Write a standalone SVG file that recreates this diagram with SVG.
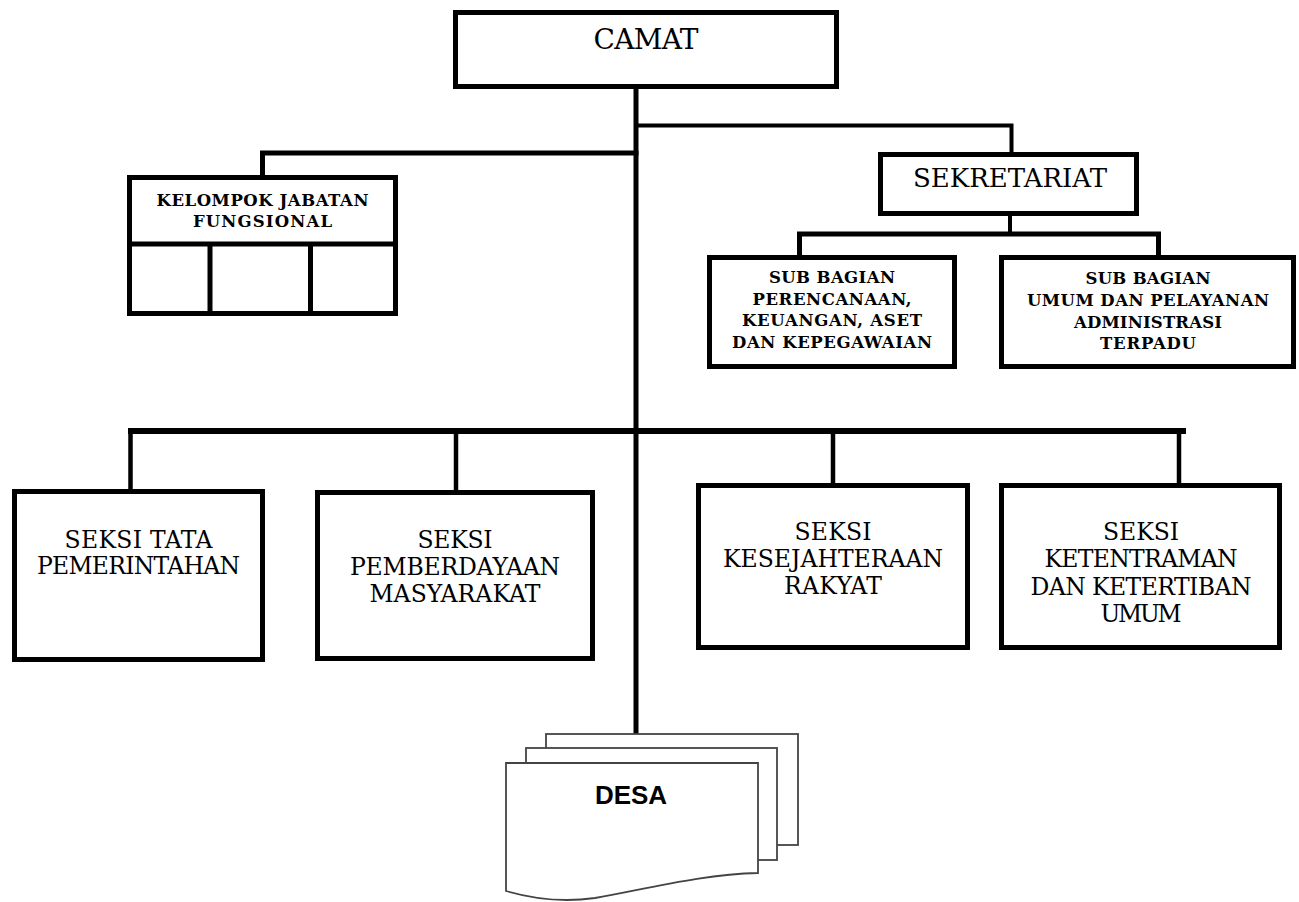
<svg xmlns="http://www.w3.org/2000/svg" width="1299" height="902" viewBox="0 0 1299 902">
<style>
.box{fill:#fff;stroke:#000;stroke-width:5}
.ln{fill:none;stroke:#000;stroke-width:5;stroke-linecap:square}
.big{font-family:"DejaVu Serif","Liberation Serif",serif;font-size:23.5px;fill:#000;text-anchor:middle}
.sm{font-family:"DejaVu Serif","Liberation Serif",serif;font-weight:bold;font-size:16.5px;fill:#000;text-anchor:middle}
.sheet{fill:#fff;stroke:#444;stroke-width:1.8}
.desa{font-family:"Liberation Sans",Arial,sans-serif;font-weight:bold;font-size:26px;fill:#000;text-anchor:middle}
</style>
<rect width="1299" height="902" fill="#fff"/>
<g id="connectors">
<line class="ln" x1="636" y1="89" x2="636" y2="733"/>
<path class="ln" style="stroke-width:4" d="M636,125.5 H1011.5 V152"/>
<path class="ln" d="M636,153 H262.5 V175"/>
<path class="ln" style="stroke-width:4" d="M1010,216 V234"/>
<path class="ln" d="M799.5,255 V234 H1158.5 V255"/>
<line class="ln" style="stroke-width:6;stroke-linecap:butt" x1="128" y1="431" x2="1186" y2="431"/>
<line class="ln" style="stroke-width:4.5" x1="130.5" y1="431" x2="130.5" y2="489"/>
<line class="ln" style="stroke-width:4.5" x1="456" y1="431" x2="456" y2="490"/>
<line class="ln" style="stroke-width:4.5" x1="833" y1="431" x2="833" y2="483"/>
<line class="ln" style="stroke-width:4.5" x1="1179" y1="431" x2="1179" y2="483"/>
</g>
<g id="camat">
<rect class="box" x="455.5" y="12.5" width="381" height="74"/>
<text class="big" style="font-size:28px" x="646" y="49" textLength="105">CAMAT</text>
</g>
<g id="kelompok">
<rect class="box" x="129.5" y="177.5" width="266" height="136"/>
<line class="ln" style="stroke-linecap:butt" x1="129.5" y1="244" x2="395.5" y2="244"/>
<line class="ln" style="stroke-linecap:butt" x1="210" y1="244" x2="210" y2="313.5"/>
<line class="ln" style="stroke-linecap:butt" x1="310.5" y1="244" x2="310.5" y2="313.5"/>
<text class="sm" x="262.5" y="206" textLength="212">KELOMPOK JABATAN</text>
<text class="sm" x="262.5" y="227" textLength="139">FUNGSIONAL</text>
</g>
<g id="sekretariat">
<rect class="box" x="880.5" y="154.5" width="256" height="59"/>
<text class="big" style="font-size:26px" x="1010" y="187" textLength="194">SEKRETARIAT</text>
</g>
<g id="subbag-perencanaan">
<rect class="box" x="709.5" y="257.5" width="245" height="109"/>
<text class="sm" x="832" y="283" textLength="126">SUB BAGIAN</text>
<text class="sm" x="832" y="305" textLength="159">PERENCANAAN,</text>
<text class="sm" x="832" y="326" textLength="180">KEUANGAN, ASET</text>
<text class="sm" x="832" y="348" textLength="200">DAN KEPEGAWAIAN</text>
</g>
<g id="subbag-umum">
<rect class="box" x="1001.5" y="257.5" width="292" height="109"/>
<text class="sm" x="1148" y="284" textLength="125">SUB BAGIAN</text>
<text class="sm" x="1148" y="306" textLength="242">UMUM DAN PELAYANAN</text>
<text class="sm" x="1148" y="328" textLength="148">ADMINISTRASI</text>
<text class="sm" x="1148" y="349" textLength="96">TERPADU</text>
</g>
<g id="seksi-tata">
<rect class="box" x="14.5" y="491.5" width="248" height="168"/>
<text class="big" x="138.5" y="548" textLength="148">SEKSI TATA</text>
<text class="big" x="138.5" y="574" textLength="203">PEMERINTAHAN</text>
</g>
<g id="seksi-pemberdayaan">
<rect class="box" x="317.5" y="492.5" width="275" height="166"/>
<text class="big" x="455" y="548" textLength="75">SEKSI</text>
<text class="big" x="455" y="575" textLength="210">PEMBERDAYAAN</text>
<text class="big" x="455" y="602" textLength="171">MASYARAKAT</text>
</g>
<g id="seksi-kesejahteraan">
<rect class="box" x="698.5" y="485.5" width="269" height="162"/>
<text class="big" x="833" y="540" textLength="77">SEKSI</text>
<text class="big" x="833" y="567" textLength="220">KESEJAHTERAAN</text>
<text class="big" x="833" y="594" textLength="98">RAKYAT</text>
</g>
<g id="seksi-ketentraman">
<rect class="box" x="1001.5" y="485.5" width="278" height="162"/>
<text class="big" x="1141" y="540" textLength="76">SEKSI</text>
<text class="big" x="1141" y="567" textLength="193">KETENTRAMAN</text>
<text class="big" x="1141" y="595" textLength="221">DAN KETERTIBAN</text>
<text class="big" x="1141" y="622" textLength="81">UMUM</text>
</g>
<g id="desa">
<rect class="sheet" x="546" y="734" width="252" height="111"/>
<rect class="sheet" x="526" y="748" width="251" height="112"/>
<path class="sheet" d="M506,763 H758 V873 C705,874 650,888 595,898 C560,903 530,898 506,891 Z"/>
<text class="desa" x="631" y="804">DESA</text>
</g>
</svg>
